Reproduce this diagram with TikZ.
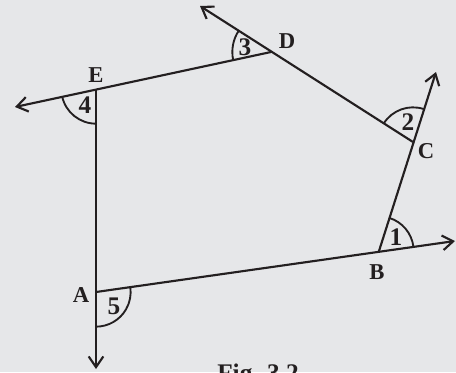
\documentclass[tikz,border=0pt]{standalone}
\usepackage{fontspec}
\setmainfont{Liberation Serif}
\usepackage{tikz}
\usetikzlibrary{arrows.meta,angles}
\definecolor{FigBack}{HTML}{E6E7E9}
\definecolor{FigInk}{HTML}{231F20}
\tikzset{
    % Side of the pentagon
    sideline/.style={
        draw=FigInk,
        line width=1.6pt
    },
    % Side with its extended ray
    rayarrow/.style={
        sideline,
        -{Straight Barb[length=8pt,width=11pt]}
    },
    % Exterior angle arc
    anglearc/.style={
        draw=FigInk,
        line width=1.4pt,
        angle radius=26pt
    },
    % Vertex label
    vertexlabel/.style={
        text=FigInk,
        inner sep=0pt,
        font=\fontsize{17}{17}\selectfont\bfseries
    },
    % Angle number
    anglelabel/.style={
        text=FigInk,
        inner sep=0pt,
        font=\fontsize{19}{19}\selectfont\bfseries
    },
    % Figure caption
    captionlabel/.style={
        text=FigInk,
        inner sep=0pt,
        font=\fontsize{19}{19}\selectfont\bfseries
    }
}

\begin{document}
\begin{tikzpicture}[x=0.75pt, y=-0.75pt]
    \fill[FigBack] (0,0) rectangle (456,372);
    \useasboundingbox (0,0) rectangle (456,372);

    % vertices
    \coordinate (A) at (96,292);
    \coordinate (B) at (379,251);
    \coordinate (C) at (413,142);
    \coordinate (D) at (271,52);
    \coordinate (E) at (96,89);

    % ray ends
    \coordinate (tA) at (96,369);
    \coordinate (tB) at (455,241);
    \coordinate (tC) at (436,72);
    \coordinate (tD) at (200,6);
    \coordinate (tE) at (15,107);

    % sides produced
    \draw[rayarrow] (E) -- (tA);
    \draw[rayarrow] (A) -- (tB);
    \draw[rayarrow] (B) -- (tC);
    \draw[rayarrow] (C) -- (tD);
    \draw[rayarrow] (D) -- (tE);

    % exterior angles
    \pic[anglearc] {angle = tB--B--C};
    \pic[anglearc] {angle = tC--C--D};
    \pic[anglearc, angle radius=29pt] {angle = tD--D--E};
    \pic[anglearc] {angle = tE--E--A};
    \pic[anglearc] {angle = tA--A--B};

    \node[anglelabel] (n1) at (396,237) {1};
    \node[anglelabel] (n2) at (408,122) {2};
    \node[anglelabel] (n3) at (245,47) {3};
    \node[anglelabel] (n4) at (85,105) {4};
    \node[anglelabel] (n5) at (114,306) {5};

    \node[vertexlabel] (lA) at (81,295) {A};
    \node[vertexlabel] (lB) at (377,272) {B};
    \node[vertexlabel] (lC) at (426,151) {C};
    \node[vertexlabel] (lD) at (287,41) {D};
    \node[vertexlabel] (lE) at (96,75) {E};

    \node[captionlabel, anchor=north west] (fig) at (217,364) {Fig. 3.2};
\end{tikzpicture}
\end{document}
